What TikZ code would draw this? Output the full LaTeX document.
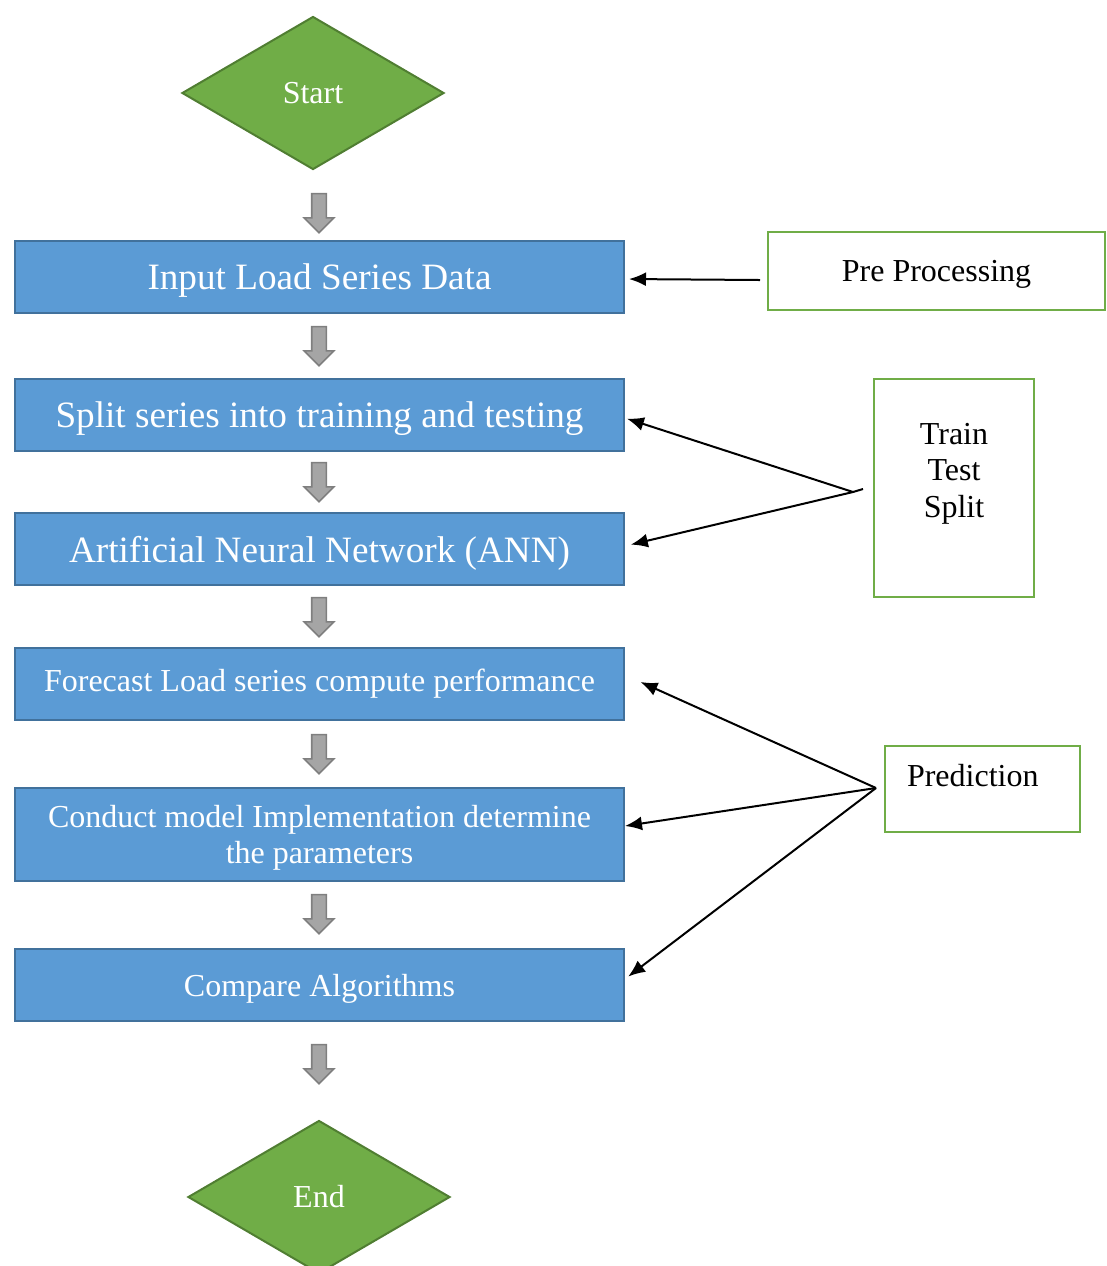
\documentclass[tikz,border=0pt]{standalone}
\usepackage{fontspec}
\setmainfont{Liberation Serif}
\usetikzlibrary{arrows.meta,shapes.geometric,shapes.arrows}
\definecolor{boxblue}{HTML}{5B9BD5}
\definecolor{boxline}{HTML}{41719C}
\definecolor{leafgreen}{HTML}{70AD47}
\definecolor{leafline}{HTML}{507E32}
\definecolor{arrowgray}{HTML}{A5A5A5}
\definecolor{arrowline}{HTML}{7F7F7F}
\tikzset{>={Latex[width=7pt,length=8.5pt]}}
\tikzset{stepbox/.style={shape=rectangle, draw=boxline, fill=boxblue, line width=1pt,
    text=white, minimum width=304.5pt, minimum height=36pt, align=center, inner sep=0pt,
    text depth=0pt}}
\tikzset{bigtext/.style={font=\fontsize{18.6}{21}\selectfont}}
\tikzset{terminal/.style={shape=diamond, draw=leafline, fill=leafgreen, line width=1pt,
    text=white, minimum width=131pt, minimum height=76.5pt, inner sep=0pt}}
\tikzset{notebox/.style={shape=rectangle, draw=leafgreen, line width=1pt, fill=white,
    align=center, inner sep=0pt}}
\tikzset{flowarrow/.style={shape=single arrow, draw=arrowline, fill=arrowgray,
    line width=0.8pt, rotate=-90, minimum height=19.5pt, inner xsep=0pt, inner ysep=3.25pt,
    single arrow head extend=3.75pt}}

\begin{document}
\begin{tikzpicture}[x=0.5pt, y=-0.5pt, font=\fontsize{16}{18.3}\selectfont, line width=1pt]
    \useasboundingbox (0,0) rectangle (1107,1266);
    % main flow
    \node[terminal] (start) at (313,93) {Start};
    \node[stepbox, bigtext] (input) at (319.5,277) {Input Load Series Data};
    \node[stepbox, bigtext] (split) at (319.5,415) {Split series into training and testing};
    \node[stepbox, bigtext] (ann) at (319.5,549) {Artificial Neural Network (ANN)};
    \node[stepbox, text depth=] (forecast) at (319.5,684) {Forecast Load series compute performance};
    \node[stepbox, minimum height=46.5pt] (conduct) at (319.5,834.5)
      {Conduct model Implementation determine\\the parameters};
    \node[stepbox] (compare) at (319.5,985) {Compare Algorithms};
    \node[terminal] (end) at (319,1197) {End};
    \foreach \y [count=\i] in {209.5,342.5,478.5,613.5,750.5,910.5,1060.5}
      \node[flowarrow] (down\i) at (319,\y) {};
    % side notes
    \node[notebox, minimum width=168.5pt, minimum height=39pt, text depth=0pt] (prep)
      at (936.5,271) {Pre Processing};
    \node[notebox, minimum width=80pt, minimum height=109pt,
      label={[anchor=north, inner sep=0pt, yshift=-22pt, align=center]north:Train\\Test\\Split}]
      (tts) at (954,488) {};
    \node[notebox, minimum width=97.5pt, minimum height=43pt,
      label={[anchor=north west, inner sep=0pt, xshift=11pt, yshift=-9pt]north west:Prediction}]
      (pred) at (982.5,789) {};
    \coordinate (ppout) at (760,280);
    \coordinate (tsjoin) at (853,492);
    \coordinate (tsstub) at (863,489);
    \coordinate (predjoin) at (876,788);
    \draw[->, shorten >=2pt] (ppout) -- ([yshift=-1pt]input.east);
    \draw[->, shorten >=1pt] (tsjoin) -- ([yshift=-1.5pt]split.east);
    \draw[->, shorten >=3pt] (tsjoin) -- ([yshift=1.5pt]ann.east);
    \draw (tsjoin) -- (tsstub);
    \draw[->, shorten >=8.5pt] (predjoin) -- ([yshift=4.5pt]forecast.east);
    \draw[->] (predjoin) -- ([yshift=4.25pt]conduct.east);
    \draw[->, shorten >=2pt] (predjoin) -- ([yshift=3pt]compare.east);
\end{tikzpicture}
\end{document}
